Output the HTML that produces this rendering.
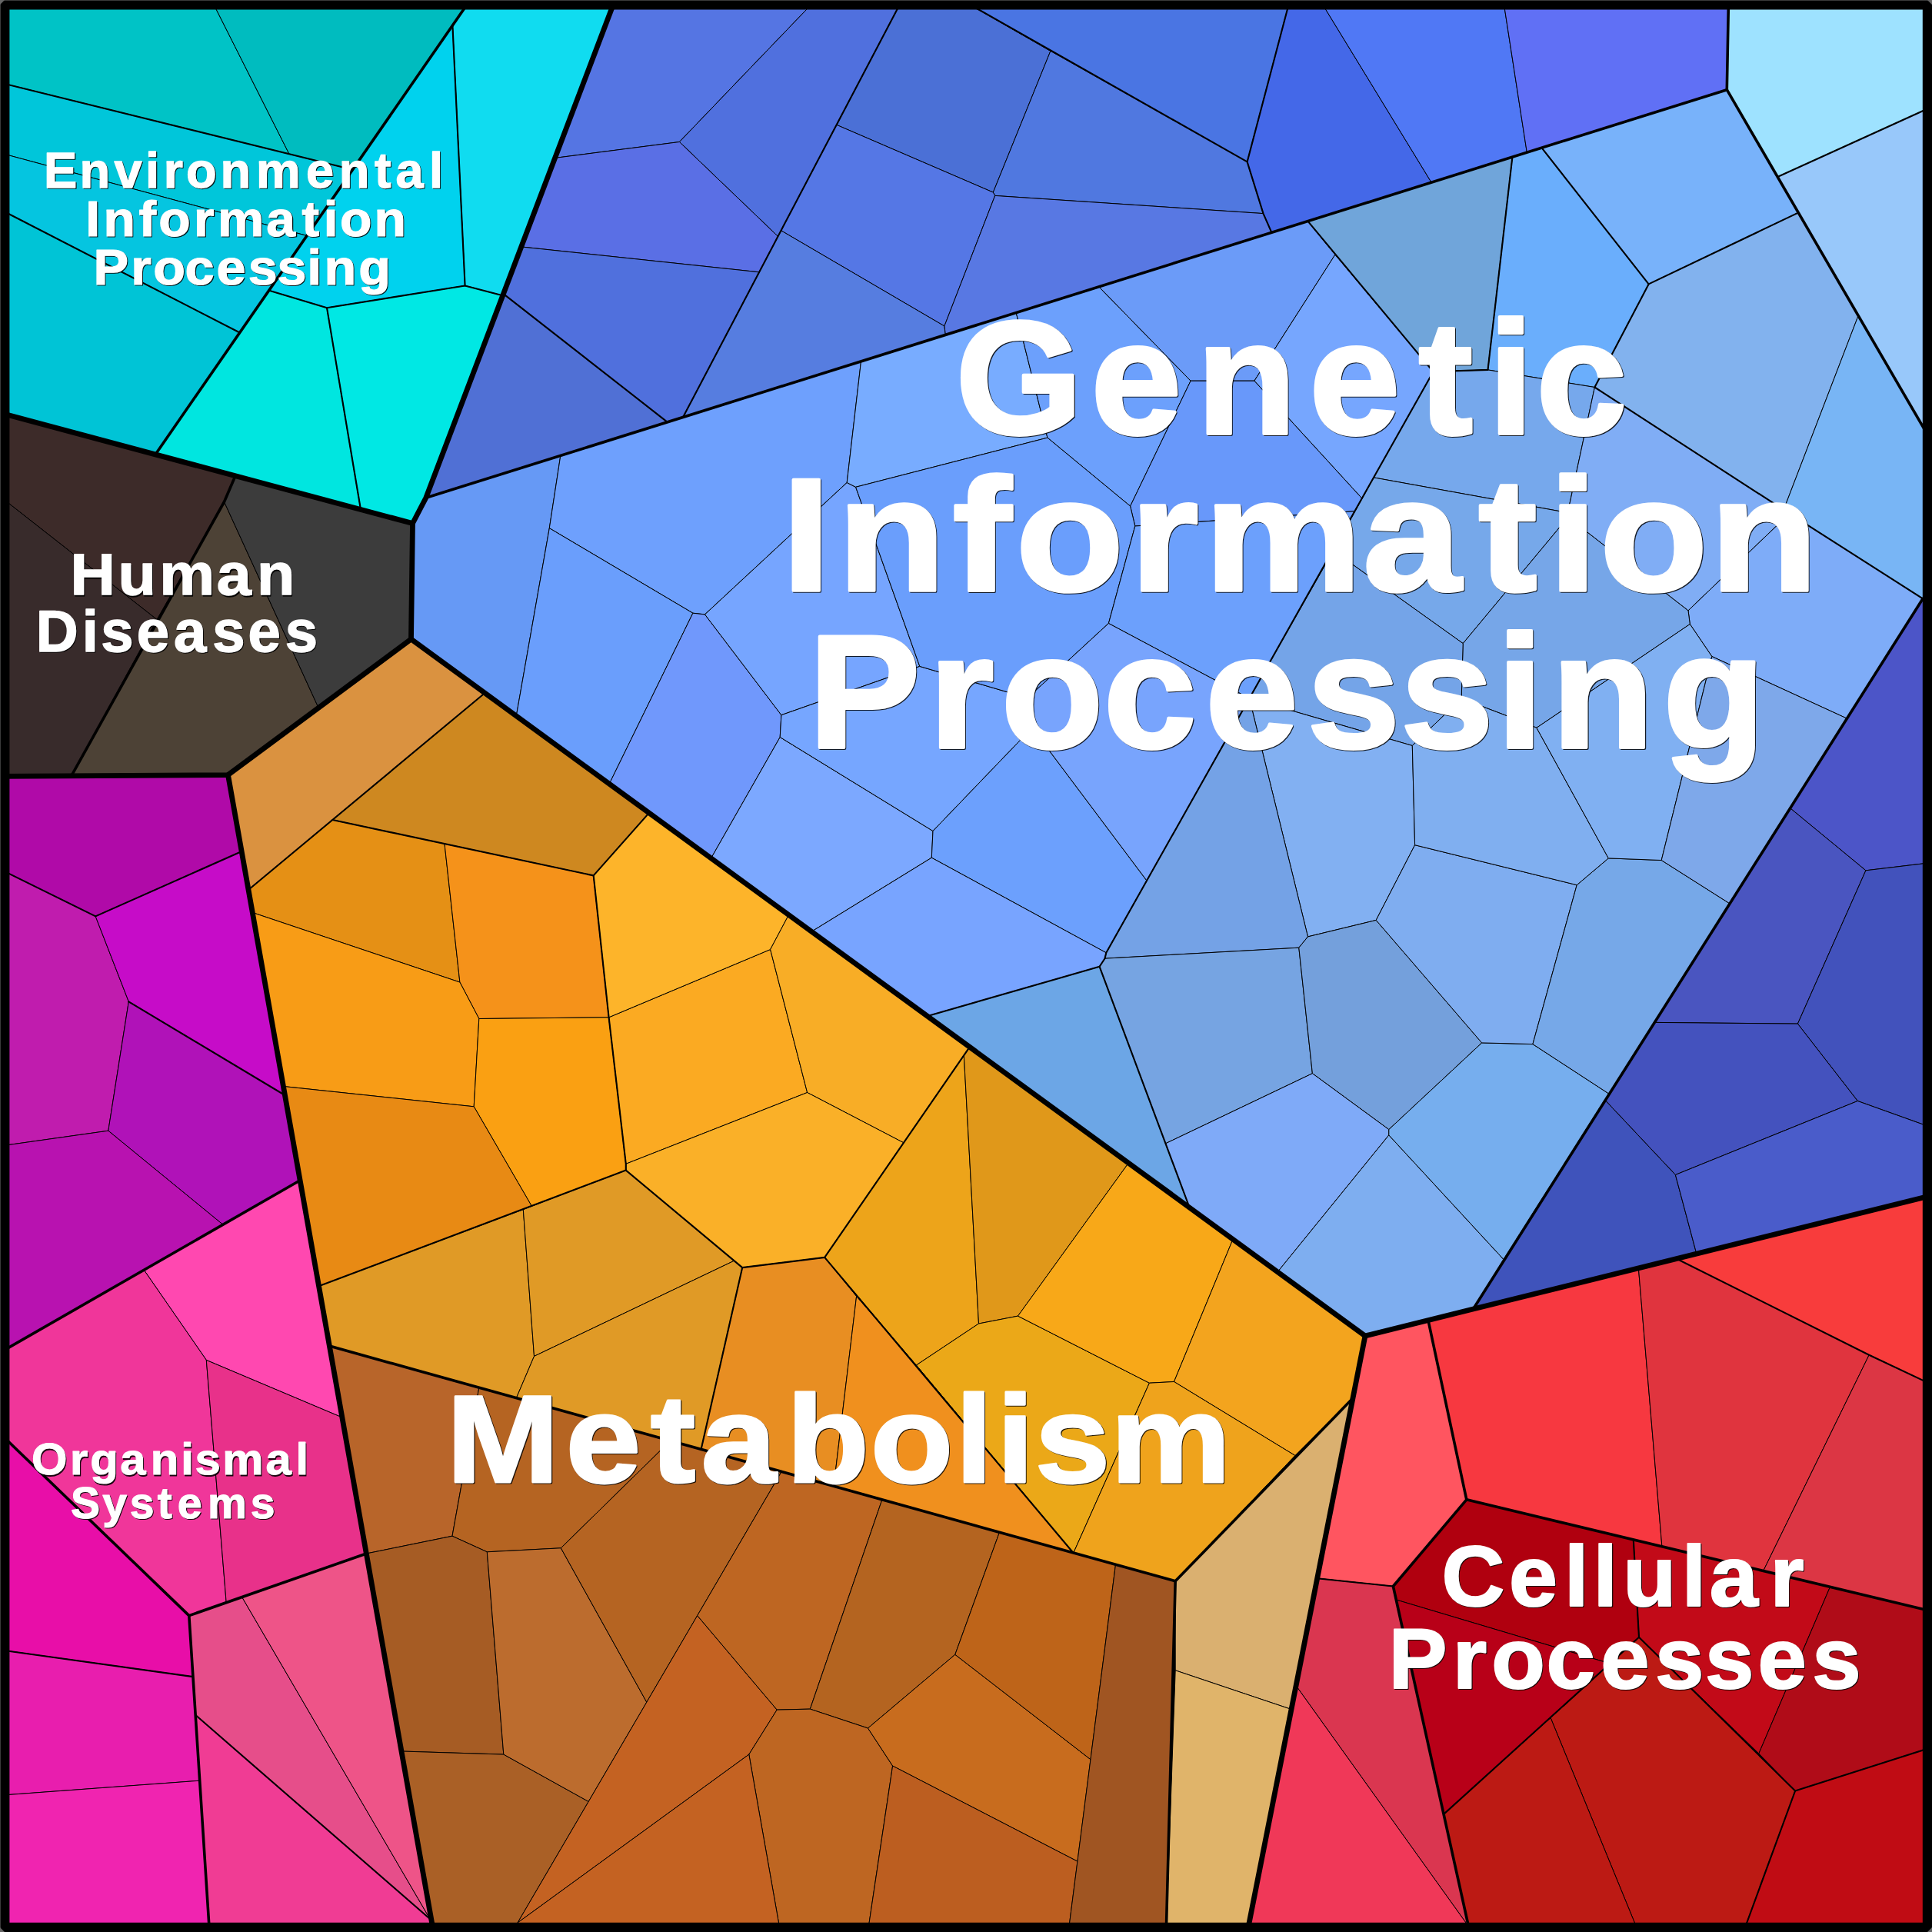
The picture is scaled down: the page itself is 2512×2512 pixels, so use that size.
<!DOCTYPE html>
<html><head><meta charset="utf-8"><title>KEGG Voronoi treemap</title>
<style>html,body{margin:0;padding:0;background:#000;}svg{display:block;}</style></head><body>
<svg xmlns="http://www.w3.org/2000/svg" width="2512" height="2512" viewBox="0 0 2512 2512">
<g stroke="#000" stroke-width="1.0" stroke-linejoin="round">
<polygon fill="#00C3C6" points="0,0 275,0 376,200.3 0,107.4"/>
<polygon fill="#00BCBF" points="275,0 611.3,0 458.2,220.6 376,200.3"/>
<polygon fill="#00C6DA" points="0,107.4 458.2,220.6 398.6,306.4 0,198.8"/>
<polygon fill="#05C5E0" points="0,198.8 398.6,306.4 311.2,432.3 0,272.2"/>
<polygon fill="#00C4D6" points="0,272.2 311.2,432.3 202,590.9 0,536.8"/>
<polygon fill="#10DCF0" points="588.4,33.1 611.3,0 799.6,0 653.5,384.3 604.6,371.5"/>
<polygon fill="#00D2EE" points="588.4,33.1 604.6,371.5 425,400.2 349.2,377.6"/>
<polygon fill="#00E6E0" points="349.2,377.6 425,400.2 469,662.5 202,590.9"/>
<polygon fill="#00E8E4" points="425,400.2 604.6,371.5 653.5,384.3 553.8,647.3 536.5,680.5 469,662.5"/>
<polygon fill="#3D2B29" points="0,536.8 306,618.8 291.5,652.5 204,805.5 0,645.5"/>
<polygon fill="#382B2B" points="0,645.5 204,805.5 92.8,1008.8 0,1009.3"/>
<polygon fill="#4D4236" points="291.5,652.5 414.1,920.3 296.5,1007.6 92.8,1008.8"/>
<polygon fill="#3C3C3C" points="306,618.8 536.5,680.5 534.5,831 414.1,920.3 291.5,652.5"/>
<polygon fill="#B00AA8" points="0,1009.3 296.5,1007.6 314.2,1107 124.2,1191.4 0,1130.2"/>
<polygon fill="#C01CAE" points="0,1130.2 124.2,1191.4 167.3,1302.3 140.8,1470.2 0,1490.1"/>
<polygon fill="#C60CC8" points="124.2,1191.4 314.2,1107 370.4,1424 167.3,1302.3"/>
<polygon fill="#B012B8" points="167.3,1302.3 370.4,1424 390.1,1534.8 289.9,1592.3 140.8,1470.2"/>
<polygon fill="#B812B0" points="0,1490.1 140.8,1470.2 289.9,1592.3 0,1758.6"/>
<polygon fill="#FF48B0" points="187.2,1651.2 390.1,1534.8 444.9,1843 268.3,1768.4"/>
<polygon fill="#F0369A" points="0,1758.6 187.2,1651.2 268.3,1768.4 294.2,2083.6 245.8,2100.6 0,1863.8"/>
<polygon fill="#E8318A" points="268.3,1768.4 444.9,1843 476.3,2020 294.2,2083.6"/>
<polygon fill="#E80EA8" points="0,1863.8 245.8,2100.6 250.9,2180.1 0,2145.2"/>
<polygon fill="#E81EAE" points="0,2145.2 250.9,2180.1 259.7,2315.2 0,2334.3"/>
<polygon fill="#F024B0" points="0,2334.3 259.7,2315.2 272.4,2512 0,2512"/>
<polygon fill="#E64E8A" points="245.8,2100.6 314.7,2076.6 559,2495 254.1,2229.8"/>
<polygon fill="#EE5488" points="314.7,2076.6 476.3,2020 563.7,2512 559,2495"/>
<polygon fill="#F03C94" points="254.1,2229.8 559,2495 563.7,2512 272.4,2512"/>
<polygon fill="#DA9240" points="534.5,831 630.5,901 323,1157 296.5,1007.6"/>
<polygon fill="#CE8820" points="630.5,901 844,1056.9 771.7,1138.4 578,1097.1 432.3,1066"/>
<polygon fill="#E59015" points="432.3,1066 578,1097.1 597.9,1277.1 328.3,1186.5 323,1157"/>
<polygon fill="#F5921A" points="578,1097.1 771.7,1138.4 791.6,1322.8 622.8,1324.5 597.9,1277.1"/>
<polygon fill="#F89C16" points="328.3,1186.5 597.9,1277.1 622.8,1324.5 616.2,1438.8 368.6,1412.5"/>
<polygon fill="#FAA012" points="622.8,1324.5 791.6,1322.8 813.8,1513.3 813.8,1521.6 691.2,1568 616.2,1438.8"/>
<polygon fill="#E88A14" points="368.6,1412.5 616.2,1438.8 691.2,1568 414.5,1672.3"/>
<polygon fill="#E09A26" points="414.5,1672.3 680.3,1572.6 694.5,1763.4 671.3,1817.8 428.4,1750.1"/>
<polygon fill="#E09A26" points="680.3,1572.6 813.8,1521.6 954.6,1639.2 694.5,1763.4"/>
<polygon fill="#E09A26" points="694.5,1763.4 954.6,1639.2 965.2,1648.1 911.5,1884.8 671.3,1817.8"/>
<polygon fill="#FBAA22" points="791.6,1322.8 1001.6,1234.5 1049.6,1420.5 813.8,1513.3"/>
<polygon fill="#FDB42A" points="771.7,1138.4 844,1056.9 1025.5,1189.5 1001.6,1234.5 791.6,1322.8"/>
<polygon fill="#F8AD26" points="1001.6,1234.5 1025.5,1189.5 1260.7,1361.3 1174.9,1485.8 1049.6,1420.5"/>
<polygon fill="#FAB028" points="813.8,1513.3 1049.6,1420.5 1174.9,1485.8 1072.2,1634.9 965.2,1648.1 813.8,1521.6"/>
<polygon fill="#EDA41A" points="1072.2,1634.9 1253.3,1372 1272.5,1721 1191.4,1775"/>
<polygon fill="#E0981A" points="1253.3,1372 1260.7,1361.3 1467.5,1511.9 1323.5,1711.1 1272.5,1721"/>
<polygon fill="#EBA818" points="1191.4,1775 1272.5,1721 1323.5,1711.1 1494.4,1798.2 1395.7,2019.2"/>
<polygon fill="#F8A818" points="1323.5,1711.1 1467.5,1511.9 1603.1,1611.1 1526.5,1796.5 1494.4,1798.2"/>
<polygon fill="#F3A41E" points="1526.5,1796.5 1603.1,1611.1 1775,1736.9 1759,1818 1683.9,1892.5"/>
<polygon fill="#EFA31C" points="1494.4,1798.2 1526.5,1796.5 1683.9,1892.5 1528.2,2055.8 1395.7,2019.2"/>
<polygon fill="#E88E22" points="965.2,1648.1 1072.2,1634.9 1113.6,1685.5 1084,1932.4 911.5,1884.8"/>
<polygon fill="#F0901E" points="1113.6,1685.5 1191.4,1775 1395.7,2019.2 1084,1932.4"/>
<polygon fill="#DAB070" points="1759,1818 1528.2,2055.8 1528.2,2171.8 1679,2222.5"/>
<polygon fill="#E0B46A" points="1528.2,2171.8 1679,2222.5 1621.8,2512 1516.3,2512"/>
<polygon fill="#B8652A" points="428.4,1750.1 622.8,1804.3 588,1997.2 476.3,2020"/>
<polygon fill="#B56422" points="622.8,1804.3 871.8,1873.1 729.3,2012.8 633.3,2017.8 588,1997.2"/>
<polygon fill="#A65C24" points="476.3,2020 588,1997.2 633.3,2017.8 654.8,2281.1 521.9,2277"/>
<polygon fill="#AA6026" points="521.9,2277 654.8,2281.1 765.2,2342.4 673,2500 666,2512 563.7,2512"/>
<polygon fill="#BC6C2E" points="633.3,2017.8 729.3,2012.8 840.8,2213.2 765.2,2342.4 654.8,2281.1"/>
<polygon fill="#B56422" points="729.3,2012.8 871.8,1873.1 1015.9,1913.9 906.7,2100.6 840.8,2213.2"/>
<polygon fill="#C46222" points="906.7,2100.6 1010.2,2223.1 973.8,2281.1 673,2500"/>
<polygon fill="#BE6622" points="1015.9,1913.9 1146.7,1950.4 1053.3,2222.1 1010.2,2223.1 906.7,2100.6"/>
<polygon fill="#B46420" points="1146.7,1950.4 1299.6,1992 1241.8,2151.3 1128.5,2247 1053.3,2222.1"/>
<polygon fill="#BE6622" points="1010.2,2223.1 1053.3,2222.1 1128.5,2247 1160.6,2296 1128.3,2512 1014.6,2512 973.8,2281.1"/>
<polygon fill="#C46222" points="973.8,2281.1 1014.6,2512 666,2512 673,2500"/>
<polygon fill="#C86C1E" points="1128.5,2247 1241.8,2151.3 1418,2287.7 1401,2420.2 1160.6,2296"/>
<polygon fill="#BE6419" points="1241.8,2151.3 1299.6,1992 1450.4,2035 1418,2287.7"/>
<polygon fill="#BC5E20" points="1160.6,2296 1401,2420.2 1389.1,2512 1128.3,2512"/>
<polygon fill="#A05522" points="1450.4,2035 1528.2,2055.8 1516.3,2512 1389.1,2512"/>
<polygon fill="#FF5560" points="1775,1736.9 1857,1716.9 1906.8,1949.8 1811.4,2062.5 1712.6,2052.2"/>
<polygon fill="#F73840" points="1857,1716.9 2130.4,1649.2 2160.9,2010.8 1906.8,1949.8"/>
<polygon fill="#E0343E" points="2130.4,1649.2 2180.1,1636.8 2430.2,1761.7 2292.7,2042.4 2160.9,2010.8"/>
<polygon fill="#F83C3C" points="2180.1,1636.8 2512,1554.3 2512,1800.4 2430.2,1761.7"/>
<polygon fill="#DC3644" points="2430.2,1761.7 2512,1800.4 2512,2095 2292.7,2042.4"/>
<polygon fill="#B0000F" points="1906.8,1949.8 2123.8,2001.9 2131,2128.7 2093.5,2163 1815.3,2080 1811.4,2062.5"/>
<polygon fill="#C20A18" points="2123.8,2001.9 2379.5,2063.2 2286.8,2280 2131,2128.7"/>
<polygon fill="#B00C18" points="2379.5,2063.2 2512,2095 2512,2271.8 2334.1,2328.5 2286.8,2280"/>
<polygon fill="#B80018" points="1815.3,2080 2093.5,2163 1877.1,2358.9"/>
<polygon fill="#BC1A14" points="2131,2128.7 2334.1,2328.5 2266.8,2512 2130.3,2512 2016.1,2233.5 2093.5,2163"/>
<polygon fill="#BC1A14" points="2016.1,2233.5 2130.3,2512 1911,2512 1877.1,2358.9"/>
<polygon fill="#C00C14" points="2334.1,2328.5 2512,2271.8 2512,2512 2266.8,2512"/>
<polygon fill="#DA3650" points="1712.6,2052.2 1811.4,2062.5 1911,2512 1906,2500 1685.1,2191.7"/>
<polygon fill="#F03858" points="1685.1,2191.7 1906,2500 1911,2512 1621.8,2512"/>
<polygon fill="#5575E3" points="799.6,0 1060.5,0 883.4,184.5 721.6,205.4"/>
<polygon fill="#5070DE" points="1060.5,0 1172.9,0 1087.7,162.3 1015.6,299.8 1011.5,307.4 883.4,184.5"/>
<polygon fill="#5A6FE5" points="721.6,205.4 883.4,184.5 1011.5,307.4 987.1,353.8 677.7,320.9"/>
<polygon fill="#5070DD" points="677.7,320.9 987.1,353.8 888,542.6 867.8,548.8 654,381.7"/>
<polygon fill="#5070D5" points="654,381.7 867.8,548.8 553.8,647.3"/>
<polygon fill="#4B70D6" points="1172.9,0 1250.5,0 1365.9,66.3 1291.3,250.1 1087.7,162.3"/>
<polygon fill="#4A75E3" points="1250.5,0 1677.1,0 1621.6,210.4 1365.9,66.3"/>
<polygon fill="#5078E0" points="1365.9,66.3 1621.6,210.4 1642.5,277.6 1293.7,254.4 1291.3,250.1"/>
<polygon fill="#5577E5" points="1087.7,162.3 1291.3,250.1 1293.7,254.4 1227.9,424 1015.6,299.8"/>
<polygon fill="#567DE0" points="1015.6,299.8 1227.9,424 1229.4,435.4 888,542.6 987.1,353.8 1011.5,307.4"/>
<polygon fill="#5878E3" points="1293.7,254.4 1642.5,277.6 1653.4,302.4 1229.4,435.4 1227.9,424"/>
<polygon fill="#4468E8" points="1677.1,0 1716.2,0 1861.1,237.2 1653.4,302.4 1642.5,277.6 1621.6,210.4"/>
<polygon fill="#5078F5" points="1716.2,0 1954.6,0 1985.3,198.2 1861.1,237.2"/>
<polygon fill="#6070F5" points="1954.6,0 2247.5,0 2245.3,116.7 1985.3,198.2"/>
<polygon fill="#9EE2FF" points="2247.5,0 2512,0 2512,138.8 2311.2,230 2245.3,116.7"/>
<polygon fill="#98C8FA" points="2311.2,230 2512,138.8 2512,575.2"/>
<polygon fill="#6699F5" points="553.8,647.3 728.8,592.4 714.3,686.7 671.3,930.8 534.5,831 536.5,680.5"/>
<polygon fill="#6EA0FD" points="728.8,592.4 1119.5,469.8 1101.2,627.5 916.5,798.9 900.9,797.2 714.3,686.7"/>
<polygon fill="#6A9EFC" points="714.3,686.7 900.9,797.2 792.3,1019 671.3,930.8"/>
<polygon fill="#7098FC" points="900.9,797.2 916.5,798.9 1015.9,929.7 1014.2,958.5 924.8,1115.5 792.3,1019"/>
<polygon fill="#76A5FF" points="916.5,798.9 1101.2,627.5 1112.6,633.3 1195.8,866.4 1015.9,929.7"/>
<polygon fill="#7CA8FF" points="1014.2,958.5 1213,1080.5 1211.3,1115.2 1055.6,1211 924.8,1115.5"/>
<polygon fill="#76A6FF" points="1015.9,929.7 1195.8,866.4 1336,907.5 1342,946.3 1213,1080.5 1014.2,958.5"/>
<polygon fill="#6CA0FD" points="1213,1080.5 1342,946.3 1491,1145 1438.3,1238.8 1211.3,1115.2"/>
<polygon fill="#78A4FF" points="1211.3,1115.2 1438.3,1238.8 1436.5,1246.2 1429.6,1256.8 1206.3,1321 1055.6,1211"/>
<polygon fill="#6CA6E6" points="1206.3,1321 1429.6,1256.8 1546.4,1569.5"/>
<polygon fill="#78ACFF" points="1119.5,469.8 1321.2,406.6 1361.9,569.1 1112.6,633.3 1101.2,627.5"/>
<polygon fill="#6CA0FC" points="1321.2,406.6 1428.8,372.8 1548.1,495.2 1469.6,658.1 1361.9,569.1"/>
<polygon fill="#6B9BF8" points="1428.8,372.8 1700.5,287.6 1736,331 1630.9,495.2 1548.1,495.2"/>
<polygon fill="#76A6FE" points="1736,331 1863.5,483.3 1770.8,648 1630.9,495.2"/>
<polygon fill="#6898FA" points="1548.1,495.2 1630.9,495.2 1770.8,648 1761.4,664.7 1475.8,684 1469.6,658.1"/>
<polygon fill="#6A9EFC" points="1361.9,569.1 1469.6,658.1 1475.8,684 1441.4,810.5 1336,907.5 1195.8,866.4 1112.6,633.3"/>
<polygon fill="#6CA0FC" points="1475.8,684 1761.4,664.7 1733.5,716 1624.4,908 1441.4,810.5"/>
<polygon fill="#78A4FD" points="1441.4,810.5 1624.4,908 1491,1145 1342,946.3 1336,907.5"/>
<polygon fill="#70A5DA" points="1700.5,287.6 1966.4,204.2 1934.5,480.9 1863.5,483.3 1736,331"/>
<polygon fill="#6AAEFC" points="1966.4,204.2 2004.5,192.2 2143.6,369.4 2073.4,503.5 1934.5,480.9"/>
<polygon fill="#78B2FA" points="2004.5,192.2 2245.3,116.7 2338,276.6 2143.6,369.4"/>
<polygon fill="#82B2EE" points="2143.6,369.4 2338,276.6 2416,410.8 2319.1,662.9 2073.4,503.5"/>
<polygon fill="#78B5F5" points="2416,410.8 2512,575.2 2512,786 2326.6,667.7 2319.1,662.9"/>
<polygon fill="#76A8EC" points="1863.5,483.3 1934.5,480.9 2073.4,503.5 2038.4,666.6 1786.2,620.9"/>
<polygon fill="#80ADF5" points="2073.4,503.5 2319.1,662.9 2326.6,667.7 2195,793.9 2038.7,672.5 2038.4,666.6"/>
<polygon fill="#7EACF8" points="2326.6,667.7 2512,786 2512,778.5 2500,778.5 2401,934 2225.8,853.5 2197.3,811.5 2195,793.9"/>
<polygon fill="#76A8EA" points="1786.2,620.9 2038.4,666.6 2038.7,672.5 1902.2,836.6 1733.5,716"/>
<polygon fill="#76A6E8" points="2038.7,672.5 2195,793.9 2197.3,811.5 1997.9,946.3 1956.5,929.7 1900.2,908.2 1902.2,836.6"/>
<polygon fill="#74A4E8" points="1733.5,716 1902.2,836.6 1900.2,908.2 1836.3,969.5 1624.4,908"/>
<polygon fill="#82B0F2" points="1624.4,908 1836.3,969.5 1839.6,1098.7 1789.2,1196.4 1700.5,1217.9"/>
<polygon fill="#74A2E6" points="1624.4,908 1700.5,1217.9 1688.8,1232.2 1436.5,1246.2 1438.3,1238.8 1491,1145"/>
<polygon fill="#76A4E2" points="1436.5,1246.2 1688.8,1232.2 1706.4,1395.7 1515.5,1486.8 1429.6,1256.8"/>
<polygon fill="#74A0DC" points="1688.8,1232.2 1700.5,1217.9 1789.2,1196.4 1926.7,1355.9 1805.8,1468.6 1706.4,1395.7"/>
<polygon fill="#7FAAF8" points="1515.5,1486.8 1706.4,1395.7 1805.8,1468.6 1805.8,1475.9 1661.4,1653.5 1546.4,1569.5"/>
<polygon fill="#7EAEF0" points="1805.8,1475.9 1955,1637.5 1915.5,1702 1775,1736.9 1661.4,1653.5"/>
<polygon fill="#76AEEE" points="1805.8,1468.6 1926.7,1355.9 1992.9,1357.6 2091.7,1422 1955,1637.5 1805.8,1475.9"/>
<polygon fill="#7FADF0" points="1839.6,1098.7 2050.2,1150.7 1992.9,1357.6 1926.7,1355.9 1789.2,1196.4"/>
<polygon fill="#76A8E8" points="2050.2,1150.7 2091.3,1115.9 2160.2,1118.5 2248.6,1174.6 2091.7,1422 1992.9,1357.6"/>
<polygon fill="#80AFF0" points="1836.3,969.5 1900.2,908.2 1956.5,929.7 1997.9,946.3 2091.3,1115.9 2050.2,1150.7 1839.6,1098.7"/>
<polygon fill="#80B0F2" points="1997.9,946.3 2197.3,811.5 2225.8,853.5 2160.2,1118.5 2091.3,1115.9"/>
<polygon fill="#7EA8EA" points="2225.8,853.5 2401,934 2248.6,1174.6 2160.2,1118.5"/>
<polygon fill="#4C55C8" points="2500,778.5 2512,778.5 2512,1121.5 2425.9,1131.8 2327.4,1050.6"/>
<polygon fill="#4A55C0" points="2327.4,1050.6 2425.9,1131.8 2337.4,1331.1 2151.1,1329.4"/>
<polygon fill="#4252BC" points="2425.9,1131.8 2512,1121.5 2512,1466.2 2415.3,1431.5 2337.4,1331.1"/>
<polygon fill="#4452BE" points="2151.1,1329.4 2337.4,1331.1 2415.3,1431.5 2178.4,1527.5 2086.6,1430"/>
<polygon fill="#3F53BB" points="2086.6,1430 2178.4,1527.5 2205.9,1630.4 1915.5,1702"/>
<polygon fill="#4A5CCA" points="2178.4,1527.5 2415.3,1431.5 2512,1466.2 2512,1554.3 2205.9,1630.4"/>
</g>
<g fill="none" stroke="#000" stroke-width="2.1" stroke-linejoin="round" stroke-linecap="round">
<polyline points="0,107.4 458.2,220.6"/>
<polyline points="0,272.2 311.2,432.3"/>
<polyline points="588.4,33.1 604.6,371.5 653.5,384.3"/>
<polyline points="604.6,371.5 425,400.2 349.2,377.6"/>
<polyline points="425,400.2 469,662.5"/>
<polyline points="1172.9,0 888,542.6"/>
<polyline points="1250.5,0 1621.6,210.4 1642.5,277.6 1653.4,302.4"/>
<polyline points="1677.1,0 1621.6,210.4"/>
<polyline points="654,381.7 867.8,548.8"/>
<polyline points="2311.2,230 2512,138.8"/>
<polyline points="1700.5,287.6 1863.5,483.3 1934.5,480.9 1966.4,204.2"/>
<polyline points="1863.5,483.3 1438.3,1238.8 1436.5,1246.2 1429.6,1256.8 1546.4,1569.5"/>
<polyline points="1206.3,1321 1429.6,1256.8"/>
<polyline points="2004.5,192.2 2143.6,369.4 2338,276.6"/>
<polyline points="2143.6,369.4 2073.4,503.5 2326.6,667.7 2512,786"/>
<polyline points="630.5,901 323,1157"/>
<polyline points="432.3,1066 771.7,1138.4"/>
<polyline points="844,1056.9 771.7,1138.4 791.6,1322.8 813.8,1513.3 813.8,1521.6"/>
<polyline points="414.5,1672.3 813.8,1521.6"/>
<polyline points="813.8,1521.6 965.2,1648.1 1072.2,1634.9 1260.7,1361.3"/>
<polyline points="1072.2,1634.9 1395.7,2019.2"/>
<polyline points="965.2,1648.1 911.5,1884.8"/>
<polyline points="1712.6,2052.2 1811.4,2062.5"/>
<polyline points="2180.1,1636.8 2430.2,1761.7 2512,1800.4"/>
<polyline points="2123.8,2001.9 2131,2128.7 2334.1,2328.5 2512,2271.8"/>
<polyline points="2334.1,2328.5 2266.8,2512"/>
<polyline points="2131,2128.7 1877.1,2358.9"/>
<polyline points="314.2,1107 124.2,1191.4 0,1130.2"/>
<polyline points="167.3,1302.3 370.4,1424"/>
<polyline points="254.1,2229.8 559,2495"/>
<polyline points="0,2145.2 250.9,2180.1"/>
</g>
<g fill="none" stroke="#000" stroke-width="3.6" stroke-linejoin="round" stroke-linecap="round">
<polyline points="611.3,0 202,590.9"/>
<polyline points="306,618.8 291.5,652.5 92.8,1008.8"/>
<polyline points="553.8,647.3 2245.3,116.7 2512,575.2"/>
<polyline points="2245.3,116.7 2247.5,0"/>
<polyline points="2500,778.5 1915.5,1702"/>
<polyline points="428.4,1750.1 1528.2,2055.8"/>
<polyline points="1759,1818 1528.2,2055.8 1516.3,2512"/>
<polyline points="1857,1716.9 1906.8,1949.8 1811.4,2062.5 1911,2512"/>
<polyline points="1906.8,1949.8 2512,2095"/>
<polyline points="0,1758.6 390.1,1534.8"/>
<polyline points="0,1863.8 245.8,2100.6 476.3,2020"/>
<polyline points="245.8,2100.6 272.4,2512"/>
</g>
<g fill="none" stroke="#000" stroke-width="6.8" stroke-linejoin="round" stroke-linecap="round">
<polyline points="799.6,0 553.8,647.3 536.5,680.5 534.5,831 296.5,1007.6 0,1009.3"/>
<polyline points="0,536.8 536.5,680.5"/>
<polyline points="296.5,1007.6 563.7,2512"/>
<polyline points="534.5,831 1775,1736.9 1621.8,2512"/>
<polyline points="1775,1736.9 1915.5,1702 2512,1554.3"/>
</g>
<path fill="#000" fill-rule="evenodd" d="M0 0H2512V2512H0Z M12.4 12.4V2499.7H2499.8V12.4Z"/>
<path fill="none" stroke="#3a3a3a" stroke-width="1" d="M0.5 2512V0.5H2512"/>
<path fill="#666" d="M0 0H6L0 6Z M2512 0V6L2506 0Z M0 2512V2506L6 2512Z M2512 2512H2506L2512 2506Z"/>
<g font-family="'Liberation Sans', sans-serif" font-weight="bold" stroke-linejoin="round">
<text transform="scale(1.0008,1)" x="58.1 104.5 149.4 190 213.7 243 287.3 333.8 398.8 441.4 487.7 515.1 558.6" y="245.4" font-size="64.92" fill="#000" stroke="#000" stroke-width="1.27" fill-opacity="0.85" stroke-opacity="0.85">Environmental</text>
<text transform="scale(1.0448,1)" x="107.6 129.7 173.7 198.5 242.3 271.9 332.6 376.7 403.7 424.1 466.6" y="308.1" font-size="64.92" fill="#000" stroke="#000" stroke-width="1.21" fill-opacity="0.85" stroke-opacity="0.85">Information</text>
<text transform="scale(1.0523,1)" x="116.5 162.8 190.4 229.7 268.7 307.7 343.6 380.5 401.5 444.1" y="371" font-size="64.92" fill="#000" stroke="#000" stroke-width="1.21" fill-opacity="0.85" stroke-opacity="0.85">Processing</text>
<text transform="scale(1.0629,1)" x="87 145.3 196.1 266.2 315.2" y="774.6" font-size="76.08" fill="#000" stroke="#000" stroke-width="1.40" fill-opacity="0.85" stroke-opacity="0.85">Human</text>
<text transform="scale(1.0009,1)" x="47.8 107.7 132.3 178.8 226.8 277 323.4 371.5" y="848.5" font-size="76.08" fill="#000" stroke="#000" stroke-width="1.48" fill-opacity="0.85" stroke-opacity="0.85">Diseases</text>
<text transform="scale(1.0169,1)" x="1222.8 1395.7 1530.9 1675 1814.5 1903.9 1965.2" y="564.7" font-size="209.20" fill="#000" stroke="#000" stroke-width="4.02" fill-opacity="0.85" stroke-opacity="0.85">Genetic</text>
<text transform="scale(1.1028,1)" x="922.5 988.2 1124 1198.3 1333 1420.7 1607.6 1743.7 1826.6 1887 2016.7" y="769.2" font-size="209.20" fill="#000" stroke="#000" stroke-width="3.71" fill-opacity="0.85" stroke-opacity="0.85">Information</text>
<text transform="scale(1.0422,1)" x="1009.6 1159.9 1249.8 1377.6 1504.5 1631.5 1748.1 1868.2 1936.8 2075.4" y="973.2" font-size="209.20" fill="#000" stroke="#000" stroke-width="3.92" fill-opacity="0.85" stroke-opacity="0.85">Processing</text>
<text transform="scale(1.0965,1)" x="530.5 671.7 772.4 832.3 933.6 1033.1 1133.7 1182.7 1228.2 1317.7" y="1928.1" font-size="160.67" fill="#000" stroke="#000" stroke-width="2.86" fill-opacity="0.85" stroke-opacity="0.85">Metabolism</text>
<text transform="scale(1.0393,1)" x="40.4 88.7 113.9 151.4 189.4 227.5 245.1 279.5 333.5 371" y="1918.6" font-size="57.55" fill="#000" stroke="#000" stroke-width="1.08" fill-opacity="0.85" stroke-opacity="0.85">Organismal</text>
<text transform="scale(0.9944,1)" x="93.6 135 170.8 207 233.2 272.6 328.7" y="1975.2" font-size="57.55" fill="#000" stroke="#000" stroke-width="1.13" fill-opacity="0.85" stroke-opacity="0.85">Systems</text>
<text transform="scale(1.0122,1)" x="1852.9 1939.4 2010.7 2047.7 2085.8 2161.6 2197 2274.8" y="2088.8" font-size="111.92" fill="#000" stroke="#000" stroke-width="2.16" fill-opacity="0.85" stroke-opacity="0.85">Cellular</text>
<text transform="scale(1.0188,1)" x="1773.2 1855.1 1904.5 1974.4 2043.9 2113.3 2177.2 2244.4 2313.8" y="2196.5" font-size="111.92" fill="#000" stroke="#000" stroke-width="2.15" fill-opacity="0.85" stroke-opacity="0.85">Processes</text>
<text transform="scale(1.0008,1)" x="57 103.4 148.3 188.9 212.6 241.9 286.2 332.7 397.7 440.3 486.6 514 557.5" y="244.3" font-size="64.92" fill="#fff" stroke="#fff" stroke-width="1.27">Environmental</text>
<text transform="scale(1.0448,1)" x="106.6 128.7 172.7 197.5 241.3 270.8 331.5 375.7 402.7 423.1 465.6" y="307" font-size="64.92" fill="#fff" stroke="#fff" stroke-width="1.21">Information</text>
<text transform="scale(1.0523,1)" x="115.5 161.7 189.3 228.6 267.6 306.6 342.5 379.5 400.5 443.1" y="369.9" font-size="64.92" fill="#fff" stroke="#fff" stroke-width="1.21">Processing</text>
<text transform="scale(1.0629,1)" x="86 144.3 195 265.1 314.2" y="773.5" font-size="76.08" fill="#fff" stroke="#fff" stroke-width="1.40">Human</text>
<text transform="scale(1.0009,1)" x="46.7 106.6 131.2 177.7 225.7 275.9 322.3 370.4" y="847.4" font-size="76.08" fill="#fff" stroke="#fff" stroke-width="1.48">Diseases</text>
<text transform="scale(1.0169,1)" x="1221.7 1394.6 1529.8 1673.9 1813.5 1902.8 1964.1" y="563.6" font-size="209.20" fill="#fff" stroke="#fff" stroke-width="4.02">Genetic</text>
<text transform="scale(1.1028,1)" x="921.5 987.2 1123 1197.3 1332 1419.7 1606.6 1742.8 1825.6 1886 2015.7" y="768.1" font-size="209.20" fill="#fff" stroke="#fff" stroke-width="3.71">Information</text>
<text transform="scale(1.0422,1)" x="1008.6 1158.9 1248.7 1376.5 1503.5 1630.4 1747.1 1867.1 1935.7 2074.4" y="972.1" font-size="209.20" fill="#fff" stroke="#fff" stroke-width="3.92">Processing</text>
<text transform="scale(1.0965,1)" x="529.5 670.7 771.4 831.3 932.6 1032.1 1132.7 1181.7 1227.2 1316.7" y="1927" font-size="160.67" fill="#fff" stroke="#fff" stroke-width="2.86">Metabolism</text>
<text transform="scale(1.0393,1)" x="39.4 87.6 112.9 150.4 188.3 226.4 244 278.4 332.4 370" y="1917.5" font-size="57.55" fill="#fff" stroke="#fff" stroke-width="1.08">Organismal</text>
<text transform="scale(0.9944,1)" x="92.5 133.9 169.7 205.9 232.1 271.4 327.6" y="1974.1" font-size="57.55" fill="#fff" stroke="#fff" stroke-width="1.13">Systems</text>
<text transform="scale(1.0122,1)" x="1851.8 1938.3 2009.6 2046.6 2084.8 2160.5 2195.9 2273.7" y="2087.7" font-size="111.92" fill="#fff" stroke="#fff" stroke-width="2.16">Cellular</text>
<text transform="scale(1.0188,1)" x="1772.1 1854 1903.4 1973.3 2042.8 2112.3 2176.1 2243.3 2312.7" y="2195.4" font-size="111.92" fill="#fff" stroke="#fff" stroke-width="2.15">Processes</text>
</g>
</svg></body></html>
